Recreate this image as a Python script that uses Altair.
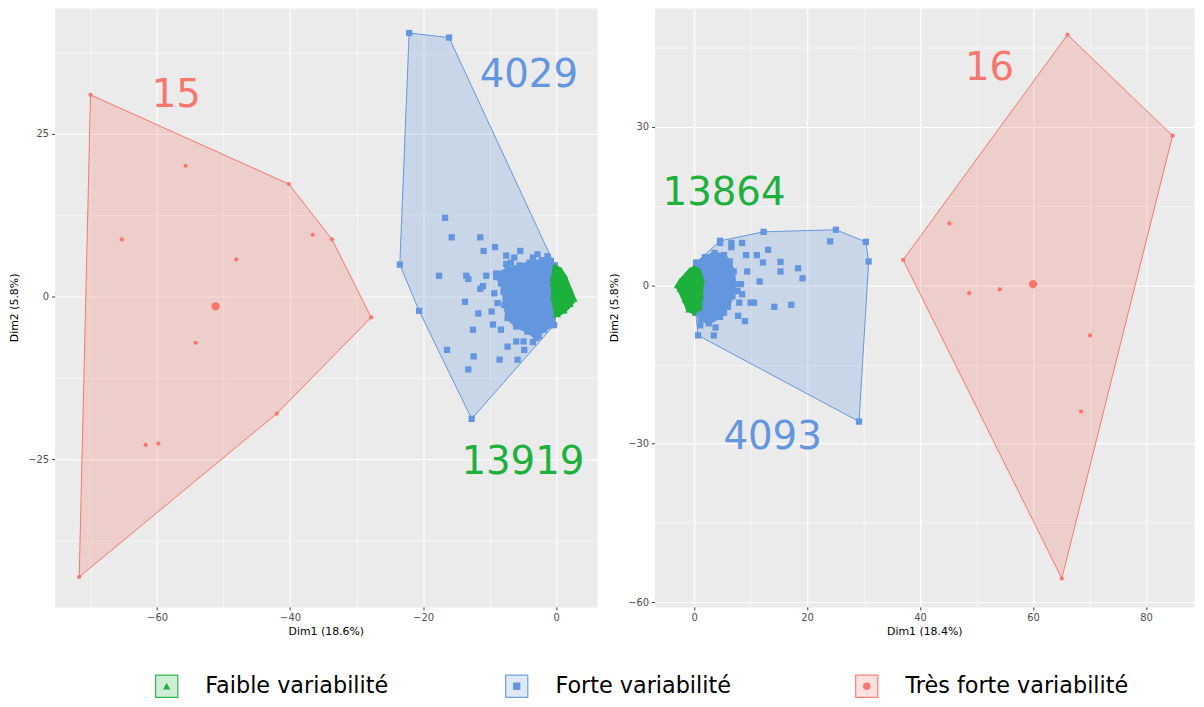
import altair as alt
import pandas as pd

CATS = ["Faible variabilité", "Forte variabilité", "Très forte variabilité"]
COLORS = ["#1DB03C", "#6496DF", "#F8766D"]
SHAPES = ["triangle-up", "square", "circle"]
FONT = "DejaVu Sans"

# ---------------- Left panel ----------------
L_RED_X = [-70.0, -40.2, -33.7, -27.8, -42.0, -71.7, -55.7, -65.3, -48.1, -36.6, -54.2, -61.7, -59.8]
L_RED_Y = [31.0, 17.3, 8.8, -3.2, -18.0, -43.1, 20.1, 8.8, 5.7, 9.5, -7.1, -22.8, -22.6]
L_RED_CX = [-51.2]
L_RED_CY = [-1.5]

L_BLUE_X = [-22.1, -16.1, -23.5, -20.6, -12.7, -16.7, -15.7, -11.4, -10.9, -9.2, -7.5, -7.5, -6.3,
            -5.4, -2.8, -17.6, -13.5, -13.2, -10.5, -11.0, -11.4, -13.7, -11.7, -9.7, -9.5, -12.5,
            -8.3, -16.4, -12.4, -8.5, -13.2, -5.8, -7.3, -6.0, -4.8, -2.6, -9.0, -4.9, -3.5, -8.8,
            -9.3, -6.8, -3.5, -1.3]
L_BLUE_Y = [40.5, 39.8, 4.9, -2.2, -18.8, 12.1, 9.1, 9.1, 7.0, 7.6, 6.3, 5.0, 6.0,
            7.0, 6.5, 3.2, 3.2, 2.7, 3.2, 1.6, 1.2, -0.8, -2.6, -2.3, -4.3, -5.1,
            -5.1, -8.2, -9.2, -9.7, -11.2, -9.7, -7.7, -6.9, -8.2, -6.1, 3.5, -6.9, -7.0, -1.0,
            0.5, 5.2, 6.0, 6.2]
L_BLUE_CORE_X = [-9.0, -7.3, -5.5, -4.0, -2.1, -0.8, -0.2, -0.1, -0.3, -1.8, -3.0, -4.3, -6.0, -7.3, -7.8, -7.9, -8.3, -9.0]
L_BLUE_CORE_Y = [3.5, 4.2, 4.8, 5.2, 5.6, 5.5, 4.8, -0.3, -4.4, -5.1, -6.4, -5.4, -4.6, -3.3, -1.3, 0.7, 2.0, 3.0]

L_GREEN_X = [-0.3, 0.7, 1.5, 2.2, 2.9, 2.3, 1.4, 0.4, -0.2, -0.6, -0.7]
L_GREEN_Y = [4.8, 4.3, 3.0, 1.2, -0.5, -1.3, -2.3, -2.9, -2.9, -0.3, 2.7]

L_LABELS = ["13919", "4029", "15"]
L_LABEL_X = [-5.0, -4.1, -57.1]
L_LABEL_Y = [-25.5, 34.1, 30.9]

L_XDOM = [-75.4, 6.15]
L_YDOM = [-47.7, 44.36]
L_XTICKS = [-70, -60, -50, -40, -30, -20, -10, 0]
L_YTICKS = [-37.5, -25, -12.5, 0, 12.5, 25, 37.5]

# ---------------- Right panel ----------------
R_RED_X = [66.1, 84.7, 65.1, 37.0, 45.2, 48.7, 54.1, 70.1, 68.5]
R_RED_Y = [47.4, 28.3, -55.5, 4.8, 11.7, -1.5, -0.8, -9.5, -23.9]
R_RED_CX = [60.0]
R_RED_CY = [0.2]

R_BLUE_X = [12.3, 25.1, 24.1, 30.4, 30.9, 29.2, 0.7, 6.6, 8.5, 9.2, 11.1, 13.1, 12.2, 15.3, 15.3,
            18.4, 19.2, 11.6, 9.4, 10.0, 10.6, 14.2, 17.2, 7.8, 9.0, 4.6, 6.6, 8.5, 8.3, 7.7,
            3.5, 3.8, 1.1, 1.9, 5.3, 8.0, 0.4, 4.6]
R_BLUE_Y = [10.1, 10.5, 8.3, 8.2, 4.5, -25.8, -9.5, 8.0, 8.0, 5.7, 5.7, 6.7, 4.3, 4.4, 2.6,
            3.2, 1.3, 0.7, 2.6, -3.3, -3.3, -4.1, -3.7, -5.8, -6.8, 8.0, 7.2, -1.7, 0.2, -1.1,
            -9.5, -8.0, -7.6, -6.4, -5.2, -3.3, 4.3, 8.4]
R_BLUE_CORE_X = [0.4, 1.9, 3.6, 5.3, 6.3, 7.0, 7.2, 6.8, 6.0, 4.6, 2.6, 1.2, 0.4, 0.0, 0.0]
R_BLUE_CORE_Y = [4.1, 5.3, 6.1, 5.7, 4.5, 2.6, 0.2, -2.1, -4.1, -6.0, -7.2, -6.4, -5.2, -2.1, 1.8]

R_GREEN_X = [0.0, 0.9, 1.6, 1.4, 1.2, 0.0, -1.2, -1.8, -2.7, -3.2, -2.5, -1.5, -0.8]
R_GREEN_Y = [3.5, 3.0, 1.0, -2.1, -4.4, -5.4, -4.8, -2.9, -0.9, -0.2, 1.0, 2.2, 3.0]

R_LABELS = ["13864", "4093", "16"]
R_LABEL_X = [5.3, 13.9, 52.3]
R_LABEL_Y = [17.4, -28.8, 41.0]

R_XDOM = [-7.0, 88.5]
R_YDOM = [-60.87, 52.47]
R_XTICKS = [0, 10, 20, 30, 40, 50, 60, 70, 80]
R_YTICKS = [-60, -45, -30, -15, 0, 15, 30, 45]


def convex_hull(xs, ys):
    pts = sorted(set(zip(xs, ys)))
    if len(pts) <= 2:
        return pts

    def cross(o, a, b):
        return (a[0] - o[0]) * (b[1] - o[1]) - (a[1] - o[1]) * (b[0] - o[0])

    lower = []
    for p in pts:
        while len(lower) >= 2 and cross(lower[-2], lower[-1], p) <= 0:
            lower.pop()
        lower.append(p)
    upper = []
    for p in reversed(pts):
        while len(upper) >= 2 and cross(upper[-2], upper[-1], p) <= 0:
            upper.pop()
        upper.append(p)
    return lower[:-1] + upper[:-1]


def poly_df(xs, ys):
    pts = list(zip(xs, ys))
    pts = pts + [pts[0]]
    return pd.DataFrame({"x": [p[0] for p in pts], "y": [p[1] for p in pts], "i": list(range(len(pts)))})


def make_axis(vals, maj, title, tpad):
    test = f"abs(datum.value % {maj}) < 1e-9"
    return alt.Axis(
        values=vals, title=title, grid=True, gridColor="white",
        gridWidth={"condition": {"test": test, "value": 1.1}, "value": 0.55},
        tickOpacity={"condition": {"test": test, "value": 1}, "value": 0},
        labelExpr=f"{test} ? datum.label : ''",
        domain=False, tickColor="#333333", tickSize=3, tickWidth=1,
        labelColor="#4D4D4D", labelFontSize=10, labelFont=FONT, labelPadding=3,
        titleFont=FONT, titleFontSize=11, titleColor="black", titleFontWeight="normal",
        titlePadding=tpad, labelFlush=False, labelOverlap=False,
    )


def panel(d, width, height):
    X = alt.X("x:Q", scale=alt.Scale(domain=d["xdom"], nice=False, zero=False),
              axis=make_axis(d["xticks"], d["xmaj"], d["xtitle"], 3))
    Y = alt.Y("y:Q", scale=alt.Scale(domain=d["ydom"], nice=False, zero=False),
              axis=make_axis(d["yticks"], d["ymaj"], "Dim2 (5.8%)", 8))
    g, b, r = COLORS
    layers = []
    # hulls
    rx = d["red_x"] + d["red_cx"]
    ry = d["red_y"] + d["red_cy"]
    hx, hy = zip(*convex_hull(rx, ry))
    layers.append(alt.Chart(poly_df(hx, hy)).mark_line(
        fill=r, fillOpacity=0.25, stroke=r, strokeWidth=1).encode(x=X, y=Y, order="i:Q"))
    bx = d["blue_x"] + d["bcore_x"]
    by = d["blue_y"] + d["bcore_y"]
    hx, hy = zip(*convex_hull(bx, by))
    layers.append(alt.Chart(poly_df(hx, hy)).mark_line(
        fill=b, fillOpacity=0.25, stroke=b, strokeWidth=1).encode(x=X, y=Y, order="i:Q"))
    # red points
    layers.append(alt.Chart(pd.DataFrame({"x": d["red_x"], "y": d["red_y"]})).mark_point(
        filled=True, shape="circle", size=18, color=r, opacity=1).encode(x=X, y=Y))
    layers.append(alt.Chart(pd.DataFrame({"x": d["red_cx"], "y": d["red_cy"]})).mark_point(
        filled=True, shape="circle", size=70, color=r, opacity=1).encode(x=X, y=Y))
    # blue core + points
    layers.append(alt.Chart(poly_df(d["bcore_x"], d["bcore_y"])).mark_line(
        fill=b, fillOpacity=1, stroke=b, strokeWidth=3).encode(x=X, y=Y, order="i:Q"))
    layers.append(alt.Chart(pd.DataFrame({"x": d["blue_x"] + d["bcore_x"], "y": d["blue_y"] + d["bcore_y"]})).mark_point(
        filled=True, shape="square", size=40, color=b, opacity=1).encode(x=X, y=Y))
    # green core + points + hull
    layers.append(alt.Chart(poly_df(d["green_x"], d["green_y"])).mark_line(
        fill=g, fillOpacity=1, stroke=g, strokeWidth=2).encode(x=X, y=Y, order="i:Q"))
    layers.append(alt.Chart(pd.DataFrame({"x": d["green_x"], "y": d["green_y"]})).mark_point(
        filled=True, shape="triangle-up", size=20, color=g, opacity=1).encode(x=X, y=Y))
    gx, gy = zip(*convex_hull(d["green_x"], d["green_y"]))
    layers.append(alt.Chart(poly_df(gx, gy)).mark_line(
        fill=g, fillOpacity=0.25, stroke=g, strokeWidth=1).encode(x=X, y=Y, order="i:Q"))
    # labels
    lab = pd.DataFrame({"x": d["lab_x"], "y": d["lab_y"], "t": d["labels"], "cat": CATS})
    layers.append(alt.Chart(lab).mark_text(font=FONT, fontSize=39, baseline="middle", align="center").encode(
        x=X, y=Y, text="t:N",
        color=alt.Color("cat:N", scale=alt.Scale(domain=CATS, range=COLORS), legend=None)))
    return alt.layer(*layers).properties(
        width=width, height=height,
        view=alt.ViewBackground(fill="#EBEBEB", stroke="transparent"))


left = panel(dict(
    red_x=L_RED_X, red_y=L_RED_Y, red_cx=L_RED_CX, red_cy=L_RED_CY,
    blue_x=L_BLUE_X, blue_y=L_BLUE_Y, bcore_x=L_BLUE_CORE_X, bcore_y=L_BLUE_CORE_Y,
    green_x=L_GREEN_X, green_y=L_GREEN_Y,
    labels=L_LABELS, lab_x=L_LABEL_X, lab_y=L_LABEL_Y,
    xdom=L_XDOM, ydom=L_YDOM, xticks=L_XTICKS, yticks=L_YTICKS, xmaj=20, ymaj=25,
    xtitle="Dim1 (18.6%)"), 547, 604)

right = panel(dict(
    red_x=R_RED_X, red_y=R_RED_Y, red_cx=R_RED_CX, red_cy=R_RED_CY,
    blue_x=R_BLUE_X, blue_y=R_BLUE_Y, bcore_x=R_BLUE_CORE_X, bcore_y=R_BLUE_CORE_Y,
    green_x=R_GREEN_X, green_y=R_GREEN_Y,
    labels=R_LABELS, lab_x=R_LABEL_X, lab_y=R_LABEL_Y,
    xdom=R_XDOM, ydom=R_YDOM, xticks=R_XTICKS, yticks=R_YTICKS, xmaj=20, ymaj=30,
    xtitle="Dim1 (18.4%)"), 544, 604)

# ---------------- Legend ----------------
leg = pd.DataFrame({"cat": CATS, "idx": [0, 1, 2]})
LX = alt.X("idx:Q", scale=alt.Scale(domain=[0, 2], range=[113, 819]), axis=None)
LY = alt.value(9)
cscale = alt.Scale(domain=CATS, range=COLORS)
legend_chart = alt.layer(
    alt.Chart(leg).mark_square(size=500, filled=True, fillOpacity=0.22, strokeWidth=1.2, strokeOpacity=0.9).encode(
        x=LX, y=LY,
        fill=alt.Fill("cat:N", scale=cscale, legend=None),
        stroke=alt.Stroke("cat:N", scale=cscale, legend=None)),
    alt.Chart(leg).mark_point(filled=True, size=55, opacity=1).encode(
        x=LX, y=LY,
        color=alt.Color("cat:N", scale=cscale, legend=None),
        shape=alt.Shape("cat:N", scale=alt.Scale(domain=CATS, range=SHAPES), legend=None)),
    alt.Chart(leg).mark_text(align="left", baseline="middle", dx=39, fontSize=22.5, font=FONT, color="black").encode(
        x=LX, y=LY, text="cat:N"),
).properties(width=1150, height=18, view=alt.ViewBackground(fill="white", stroke="transparent"))

chart = alt.vconcat(
    alt.hconcat(left, right, spacing=10),
    legend_chart,
    spacing=34,
).properties(padding={"left": 0, "top": -4, "right": 0, "bottom": 0}).configure_view(stroke="transparent")

chart.save("out.html", embed_options={"renderer": "svg", "actions": False})
